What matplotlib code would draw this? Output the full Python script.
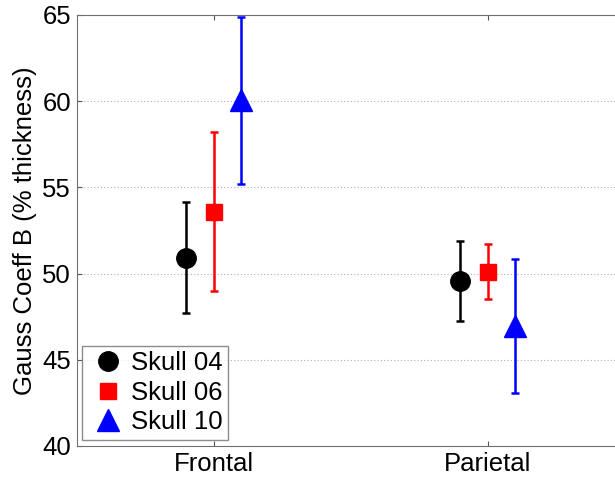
import matplotlib
matplotlib.use("Agg")
import matplotlib.pyplot as plt
from matplotlib.lines import Line2D

plt.rcParams['font.family'] = ['Liberation Sans', 'DejaVu Sans']

regions = ["Frontal", "Parietal"]
skulls = ["Skull 04", "Skull 06", "Skull 10"]
means = {
    "Skull 04": [50.93, 49.58],
    "Skull 06": [53.59, 50.12],
    "Skull 10": [60.05, 46.95],
}
errs = {
    "Skull 04": [3.2, 2.32],
    "Skull 06": [4.6, 1.58],
    "Skull 10": [4.85, 3.89],
}
offsets = [-0.1, 0.0, 0.1]
colors = ["black", "red", "blue"]
markers = ["o", "s", "^"]
msizes = [14, 12, 16]

fig = plt.figure(figsize=(6.15, 4.82), dpi=100)
ax = fig.add_axes([76.5 / 615, 1 - 446 / 482, 548 / 615, 431 / 482])

xs = [1, 2]
handles = []
for s, off, c, m, ms in zip(skulls, offsets, colors, markers, msizes):
    ax.errorbar([x + off for x in xs], means[s], yerr=errs[s], fmt=m, color=c,
                ms=ms, elinewidth=1.8, capsize=3, capthick=1.8)
    handles.append(Line2D([], [], linestyle="none", marker=m, color=c, ms=ms, label=s))

ax.set_xlim(0.5, 2.5)
ax.set_ylim(40, 65)
ax.set_xticks(xs)
ax.set_xticklabels(regions)
ax.set_yticks(range(40, 66, 5))
ax.yaxis.grid(True, linestyle=(0, (1, 2)), color="#b0b0b0", linewidth=0.8)
ax.set_axisbelow(True)
ax.tick_params(direction="in", labelsize=18.5, colors="#555555", labelcolor="black",
               top=True, right=True, pad=4)
for sp in ax.spines.values():
    sp.set_color("#707070")
ax.set_ylabel("Gauss Coeff B (% thickness)", fontsize=18.5, labelpad=4)

leg = ax.legend(handles=handles, loc="lower left", fontsize=18.5, handletextpad=0.1,
                borderpad=0.2, labelspacing=0.22, handlelength=1.6, fancybox=False,
                borderaxespad=0, bbox_to_anchor=(0.01, 0.015))
leg.get_frame().set_edgecolor("#707070")
leg.get_frame().set_linewidth(1.0)

fig.savefig("out.png", dpi=100)
